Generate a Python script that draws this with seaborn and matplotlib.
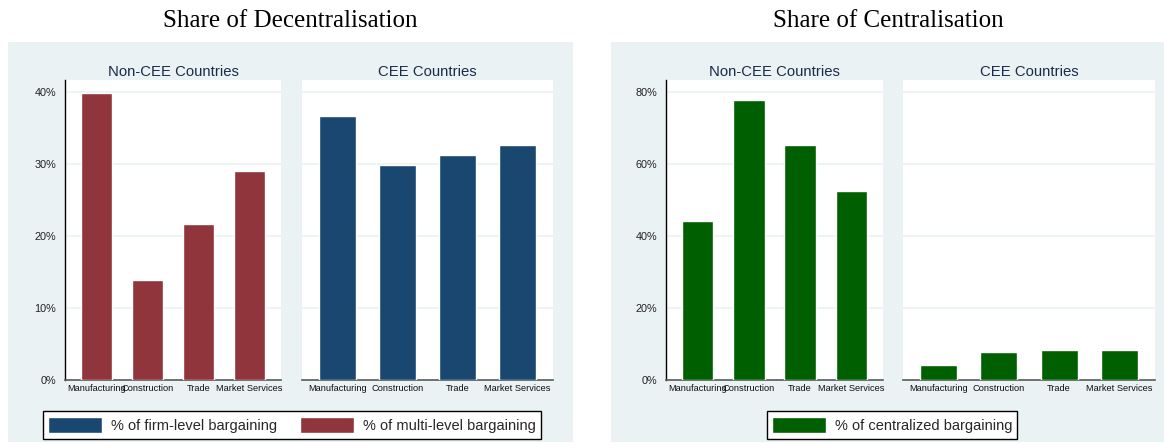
import pandas as pd
import matplotlib
matplotlib.use("Agg")
import matplotlib.pyplot as plt
from matplotlib.patches import Rectangle, Patch
from matplotlib.ticker import FuncFormatter
import seaborn as sns

# Values (percent)
SECTORS = ["Manufacturing", "Construction", "Trade", "Market Services"]
MULTI_NONCEE = [39.9, 13.9, 21.7, 29.1]
FIRM_CEE = [36.7, 29.9, 31.3, 32.7]
CENTRAL_NONCEE = [44.1, 77.8, 65.2, 52.6]
CENTRAL_CEE = [4.3, 7.8, 8.4, 8.2]

NAVY = "#1a476f"
MAROON = "#90353b"
GREEN = "#005f00"
BG = "#eaf2f3"
TITLE_COL = "#1c2b4a"

W, H = 1164, 445

sns.set_style("white")
plt.rcParams['font.family'] = ['Liberation Sans', 'DejaVu Sans']

fig = plt.figure(figsize=(W / 100, H / 100), dpi=100)
fig.patch.set_facecolor("white")


def px_rect(x0, x1, y0, y1):
    """pixel box (top-origin) -> figure fraction rect"""
    return [x0 / W, 1 - y1 / H, (x1 - x0) / W, (y1 - y0) / H]


# light graph-region backgrounds
for x0, x1 in [(8, 573), (611, 1164)]:
    r = px_rect(x0, x1, 42, 442)
    fig.patches.append(Rectangle((r[0], r[1]), r[2], r[3], transform=fig.transFigure,
                                 facecolor=BG, edgecolor="none", zorder=-10))

fig.text(290 / W, 1 - 21 / H, "Share of Decentralisation", ha="center", va="center",
         fontsize=18, color="black", family=["Liberation Serif", "DejaVu Serif"])
fig.text(888 / W, 1 - 21 / H, "Share of Centralisation", ha="center", va="center",
         fontsize=18, color="black", family=["Liberation Serif", "DejaVu Serif"])


def panel(x0, x1, values, color, title, ymax, yticks, first):
    ax = fig.add_axes(px_rect(x0, x1, 80, 380))
    ax.set_zorder(1)
    ax.set_facecolor("white")
    df = pd.DataFrame({"sector": SECTORS, "value": values})
    sns.barplot(data=df, x="sector", y="value", order=SECTORS, color=color,
                saturation=1, width=0.61, ax=ax, zorder=3)
    ax.set_ylim(0, ymax)
    if first:
        ax.set_xlim(-0.62, 3.62)
    else:
        ax.set_xlim(-0.59, 3.59)
    ax.set_yticks(yticks)
    ax.yaxis.set_major_formatter(FuncFormatter(lambda v, p: f"{v:.0f}%"))
    ax.grid(axis="y", color=BG, linewidth=1.2, zorder=0)
    ax.set_axisbelow(True)
    ax.set_xlabel("")
    ax.set_ylabel("")
    for s in ["top", "right"]:
        ax.spines[s].set_visible(False)
    ax.spines["bottom"].set_color("#5a5a5a")
    ax.spines["bottom"].set_linewidth(1.2)
    ax.tick_params(axis="x", length=0, pad=3, labelsize=6.7, labelcolor="#111111")
    if first:
        ax.spines["left"].set_color("black")
        ax.spines["left"].set_linewidth(1.0)
        ax.tick_params(axis="y", length=4.3, width=0.8, color="black", pad=2,
                       labelsize=7.8, labelcolor="#222222")
    else:
        ax.spines["left"].set_visible(False)
        ax.tick_params(axis="y", left=False, labelleft=False)
    ax.set_title(title, fontsize=10.7, color=TITLE_COL, pad=3)
    return ax


panel(65, 281, MULTI_NONCEE, MAROON, "Non-CEE Countries", 41.7, [0, 10, 20, 30, 40], True)
panel(302, 553, FIRM_CEE, NAVY, "CEE Countries", 41.7, [0, 10, 20, 30, 40], False)
panel(666, 883, CENTRAL_NONCEE, GREEN, "Non-CEE Countries", 83.3, [0, 20, 40, 60, 80], True)
panel(903, 1155, CENTRAL_CEE, GREEN, "CEE Countries", 83.3, [0, 20, 40, 60, 80], False)

leg_kw = dict(loc="center", frameon=True, fancybox=False, edgecolor="black",
              fontsize=10.5, handlelength=3.7, handleheight=1.4, handletextpad=0.6,
              borderpad=0.35, framealpha=1)

leg1 = fig.legend([Patch(facecolor=NAVY), Patch(facecolor=MAROON)],
                  ["% of firm-level bargaining", "% of multi-level bargaining"],
                  bbox_to_anchor=(292 / W, 1 - 425 / H), ncol=2, columnspacing=1.6, **leg_kw)
leg1.get_frame().set_linewidth(1.0)

leg2 = fig.legend([Patch(facecolor=GREEN)], ["% of centralized bargaining"],
                  bbox_to_anchor=(892 / W, 1 - 425 / H), ncol=1, **leg_kw)
leg2.get_frame().set_linewidth(1.0)

plt.savefig("out.png", dpi=100, facecolor="white")
